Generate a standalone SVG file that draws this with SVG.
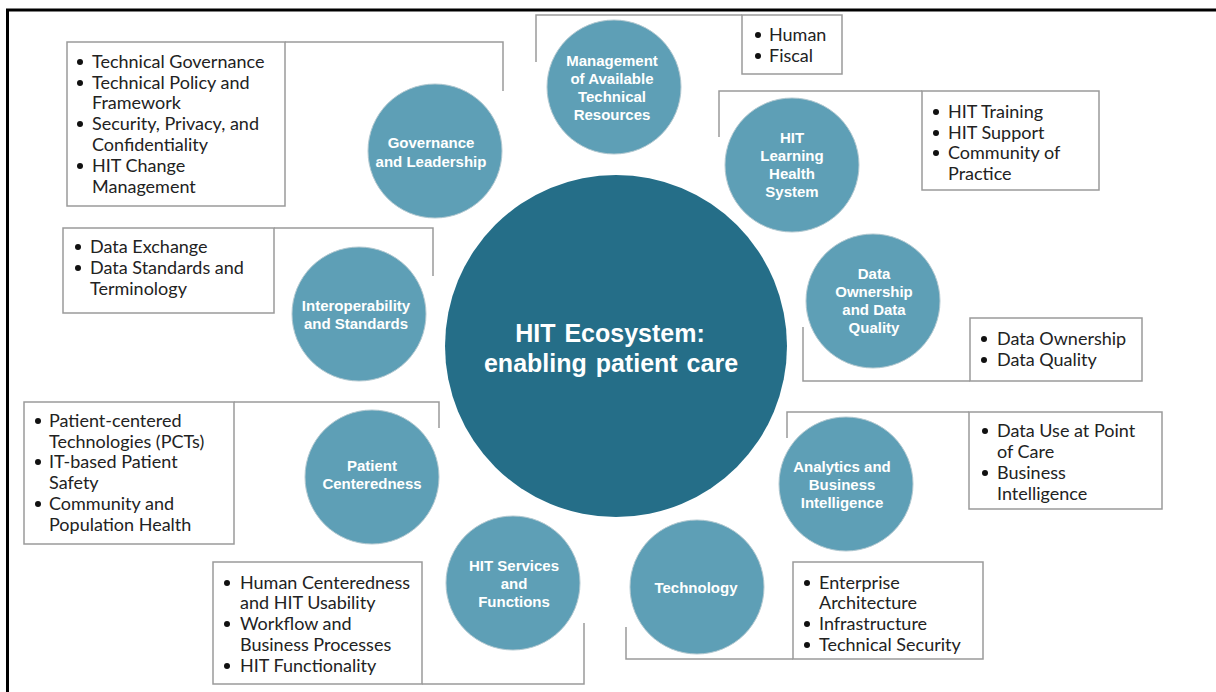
<svg xmlns="http://www.w3.org/2000/svg" width="1216" height="692" viewBox="0 0 1216 692">
<style>
.c{fill:#5E9FB6;stroke:#b3c9d1;stroke-width:1}
.big{fill:#256E88}
.lbl{font-family:"Liberation Sans",Arial,sans-serif;font-weight:bold;font-size:15px;fill:#fff;text-anchor:middle}
.ctr{font-family:"Liberation Sans",Arial,sans-serif;font-weight:bold;font-size:25px;fill:#fff;text-anchor:middle;word-spacing:2px}
.box{fill:#fff;stroke:#9a9a9a;stroke-width:1.5}
.conn{fill:none;stroke:#9a9a9a;stroke-width:1.5}
.t{font-family:Lato,"Noto Sans",sans-serif;font-size:18px;fill:#222}
.b{fill:#111}
</style>
<rect width="1216" height="692" fill="#fff"/>
<path d="M7.5,692 V10 H1216" fill="none" stroke="#000" stroke-width="3"/>
<g id="connectors">
<polyline class="conn" points="285,42 503,42 503,91"/>
<polyline class="conn" points="274,228 433,228 433,276"/>
<polyline class="conn" points="742,15 536,15 536,62"/>
<polyline class="conn" points="922,91 719,91 719,137"/>
<polyline class="conn" points="970,381 803,381 803,327"/>
<polyline class="conn" points="234,402 439,402 439,428"/>
<polyline class="conn" points="422,684 584,684 584,623"/>
<polyline class="conn" points="969,412 787,412 787,438"/>
<polyline class="conn" points="793,659 626,659 626,627"/>
</g>
<g id="center">
<circle class="big" cx="616" cy="346" r="171"/>
<text class="ctr" x="611"><tspan x="610" y="342">HIT Ecosystem:</tspan><tspan x="611" y="372">enabling patient care</tspan></text>
</g>
<g id="n-governance">
<circle class="c" cx="435" cy="151" r="67"/>
<text class="lbl"><tspan x="431" y="148">Governance</tspan><tspan x="431" y="167">and Leadership</tspan></text>
</g>
<g id="n-interop">
<circle class="c" cx="359" cy="314" r="67"/>
<text class="lbl"><tspan x="356" y="311">Interoperability</tspan><tspan x="356" y="329">and Standards</tspan></text>
</g>
<g id="n-management">
<circle class="c" cx="614" cy="87" r="67"/>
<text class="lbl"><tspan x="612" y="66">Management</tspan><tspan x="612" y="84">of Available</tspan><tspan x="612" y="102">Technical</tspan><tspan x="612" y="120">Resources</tspan></text>
</g>
<g id="n-learning">
<circle class="c" cx="792" cy="165" r="67"/>
<text class="lbl"><tspan x="792" y="143">HIT</tspan><tspan x="792" y="161">Learning</tspan><tspan x="792" y="179">Health</tspan><tspan x="792" y="197">System</tspan></text>
</g>
<g id="n-dataown">
<circle class="c" cx="873" cy="301" r="67"/>
<text class="lbl"><tspan x="874" y="279">Data</tspan><tspan x="874" y="297">Ownership</tspan><tspan x="874" y="315">and Data</tspan><tspan x="874" y="333">Quality</tspan></text>
</g>
<g id="n-patient">
<circle class="c" cx="372" cy="477" r="67"/>
<text class="lbl"><tspan x="372" y="471">Patient</tspan><tspan x="372" y="489">Centeredness</tspan></text>
</g>
<g id="n-services">
<circle class="c" cx="513" cy="583" r="67"/>
<text class="lbl"><tspan x="514" y="571">HIT Services</tspan><tspan x="514" y="589">and</tspan><tspan x="514" y="607">Functions</tspan></text>
</g>
<g id="n-analytics">
<circle class="c" cx="846" cy="484" r="67"/>
<text class="lbl"><tspan x="842" y="472">Analytics and</tspan><tspan x="842" y="490">Business</tspan><tspan x="842" y="508">Intelligence</tspan></text>
</g>
<g id="n-technology">
<circle class="c" cx="697" cy="587" r="67"/>
<text class="lbl"><tspan x="696" y="593">Technology</tspan></text>
</g>
<g id="box-governance">
<rect class="box" x="67" y="42" width="218" height="164"/>
<circle class="b" cx="80" cy="62" r="3"/><circle class="b" cx="80" cy="83" r="3"/><circle class="b" cx="80" cy="124" r="3"/><circle class="b" cx="80" cy="166" r="3"/>
<text class="t"><tspan x="92" y="68">Technical Governance</tspan><tspan x="92" y="89">Technical Policy and</tspan><tspan x="92" y="109">Framework</tspan><tspan x="92" y="130">Security, Privacy, and</tspan><tspan x="92" y="151">Confidentiality</tspan><tspan x="92" y="172">HIT Change</tspan><tspan x="92" y="193">Management</tspan></text>
</g>
<g id="box-interop">
<rect class="box" x="63" y="228" width="211" height="85"/>
<circle class="b" cx="78" cy="247" r="3"/><circle class="b" cx="78" cy="268" r="3"/>
<text class="t"><tspan x="90" y="253">Data Exchange</tspan><tspan x="90" y="274">Data Standards and</tspan><tspan x="90" y="295">Terminology</tspan></text>
</g>
<g id="box-management">
<rect class="box" x="742" y="15" width="100" height="59"/>
<circle class="b" cx="758" cy="35" r="3"/><circle class="b" cx="758" cy="56" r="3"/>
<text class="t"><tspan x="769" y="41">Human</tspan><tspan x="769" y="62">Fiscal</tspan></text>
</g>
<g id="box-learning">
<rect class="box" x="922" y="91" width="177" height="99"/>
<circle class="b" cx="936" cy="112" r="3"/><circle class="b" cx="936" cy="133" r="3"/><circle class="b" cx="936" cy="153" r="3"/>
<text class="t"><tspan x="948" y="118">HIT Training</tspan><tspan x="948" y="139">HIT Support</tspan><tspan x="948" y="159">Community of</tspan><tspan x="948" y="180">Practice</tspan></text>
</g>
<g id="box-dataown">
<rect class="box" x="970" y="318" width="172" height="63"/>
<circle class="b" cx="984" cy="339" r="3"/><circle class="b" cx="984" cy="360" r="3"/>
<text class="t"><tspan x="997" y="345">Data Ownership</tspan><tspan x="997" y="366">Data Quality</tspan></text>
</g>
<g id="box-patient">
<rect class="box" x="24" y="402" width="210" height="142"/>
<circle class="b" cx="38" cy="421" r="3"/><circle class="b" cx="38" cy="462" r="3"/><circle class="b" cx="38" cy="504" r="3"/>
<text class="t"><tspan x="49" y="427">Patient-centered</tspan><tspan x="49" y="448">Technologies (PCTs)</tspan><tspan x="49" y="468">IT-based Patient</tspan><tspan x="49" y="489">Safety</tspan><tspan x="49" y="510">Community and</tspan><tspan x="49" y="531">Population Health</tspan></text>
</g>
<g id="box-services">
<rect class="box" x="213" y="562" width="209" height="122"/>
<circle class="b" cx="227" cy="583" r="3"/><circle class="b" cx="227" cy="624" r="3"/><circle class="b" cx="227" cy="666" r="3"/>
<text class="t"><tspan x="240" y="589">Human Centeredness</tspan><tspan x="240" y="609">and HIT Usability</tspan><tspan x="240" y="630">Workflow and</tspan><tspan x="240" y="651">Business Processes</tspan><tspan x="240" y="672">HIT Functionality</tspan></text>
</g>
<g id="box-analytics">
<rect class="box" x="969" y="412" width="193" height="97"/>
<circle class="b" cx="985" cy="431" r="3"/><circle class="b" cx="985" cy="473" r="3"/>
<text class="t"><tspan x="997" y="437">Data Use at Point</tspan><tspan x="997" y="458">of Care</tspan><tspan x="997" y="479">Business</tspan><tspan x="997" y="500">Intelligence</tspan></text>
</g>
<g id="box-technology">
<rect class="box" x="793" y="562" width="190" height="97"/>
<circle class="b" cx="807" cy="583" r="3"/><circle class="b" cx="807" cy="624" r="3"/><circle class="b" cx="807" cy="645" r="3"/>
<text class="t"><tspan x="819" y="589">Enterprise</tspan><tspan x="819" y="609">Architecture</tspan><tspan x="819" y="630">Infrastructure</tspan><tspan x="819" y="651">Technical Security</tspan></text>
</g>
</svg>
